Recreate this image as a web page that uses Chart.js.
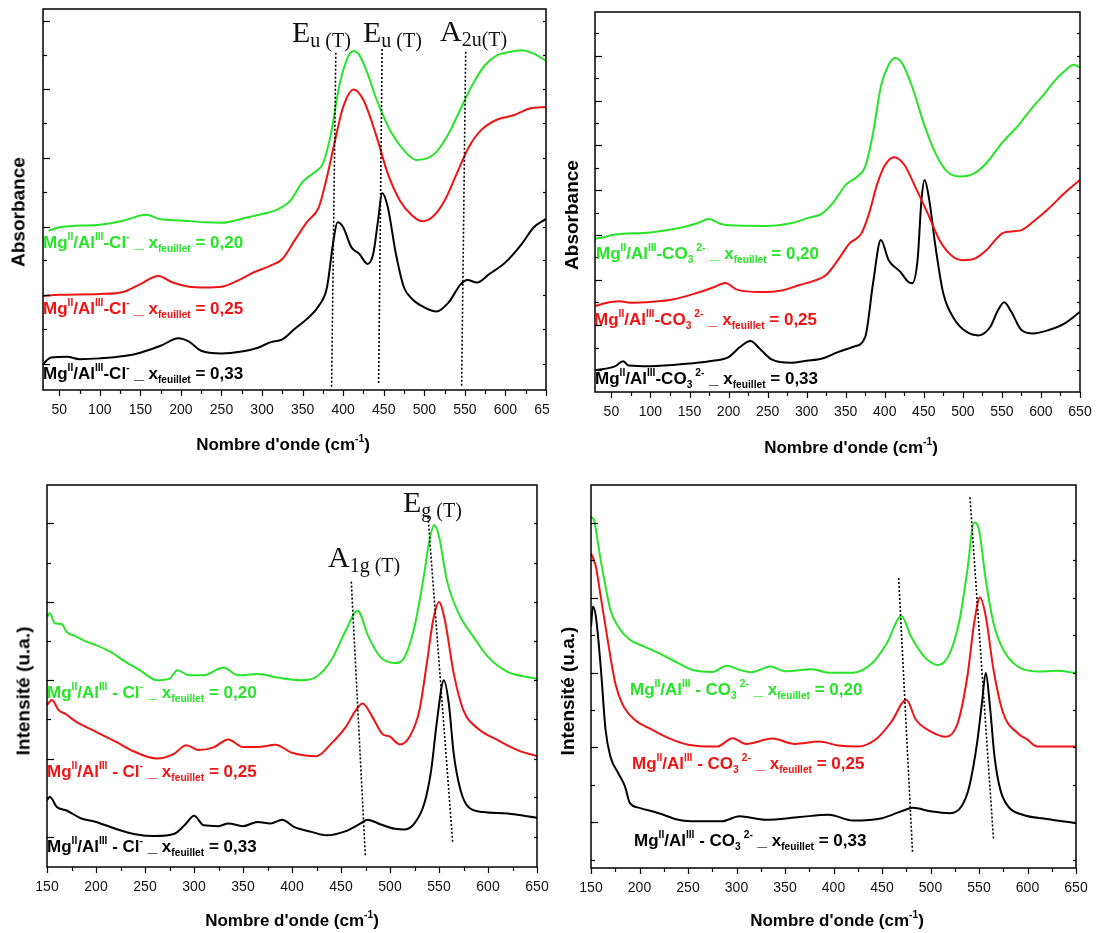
<!DOCTYPE html>
<html lang="fr">
<head>
  <meta charset="UTF-8" />
  <title>Spectres IR et Raman</title>
  <script src="https://cdn.jsdelivr.net/npm/chart.js"></script>
  <style>
    body { margin: 0; background: #fff; }
    #page { position: relative; width: 1096px; height: 933px; overflow: hidden; font-family: "Liberation Sans", Arial, sans-serif; }
    .panel { position: absolute; }
    .lbl { position: absolute; font-weight: bold; font-size: 17px; line-height: 1; white-space: nowrap; }
    .up, .dn { position: relative; font-size: 0.6em; }
    .up { top: -0.75em; }
    .dn { top: 0.45em; }
    .sp { margin-left: 3px; }
    .mode { position: absolute; font-family: "Liberation Serif", "Times New Roman", serif; font-size: 30px; line-height: 1; color: #111; white-space: nowrap; }
    .mode span { position: relative; top: 5px; font-size: 20px; }
    .xt, .yt { position: absolute; font-weight: bold; line-height: 1; white-space: nowrap; color: #000; }
    .xt { font-size: 17px; transform: translate(-50%, -50%); }
    .yt { font-size: 19px; transform: translate(-50%, -50%) rotate(-90deg); }
  </style>
</head>
<body>
  <div id="page">
    <div class="panel" style="left:0;top:0"><canvas id="irCl" width="550" height="470"></canvas></div>
    <div class="panel" style="left:550px;top:0"><canvas id="irCO3" width="546" height="470"></canvas></div>
    <div class="panel" style="left:0;top:470px"><canvas id="raCl" width="550" height="463"></canvas></div>
    <div class="panel" style="left:550px;top:470px"><canvas id="raCO3" width="546" height="463"></canvas></div>
  </div>

  <script>
    // wavenumber (cm-1), signal in arbitrary units (0 = bottom of frame, 100 = top)
    const irCl020 = [[37,41.8],[50,42.7],[100,43.4],[130,44.5],[157,46.0],[175,44.8],[200,44.5],[230,44.0],[250,43.9],[280,45.2],[300,46.2],[320,47.5],[335,49.7],[350,54.6],[365,57.2],[375,59.4],[385,67.3],[395,79.6],[405,87.0],[413,89.0],[420,87.9],[430,83.1],[440,76.9],[450,71.7],[460,67.3],[475,62.9],[490,60.4],[500,60.6],[515,62.5],[530,67.3],[545,73.9],[560,80.4],[575,85.3],[590,87.9],[600,88.5],[620,89.2],[635,88.3],[650,86.4]];
    const irCl025 = [[30,24.7],[50,25.0],[100,25.2],[130,25.8],[150,27.8],[172,29.9],[190,28.2],[210,27.1],[230,26.9],[250,27.1],[270,28.7],[290,30.9],[310,32.6],[325,34.4],[340,39.2],[355,44.0],[370,48.0],[380,55.9],[390,65.5],[400,74.3],[413,78.9],[425,76.1],[440,67.3],[455,56.8],[470,49.7],[485,45.8],[497,44.3],[510,45.4],[525,49.7],[540,56.8],[555,63.8],[570,68.2],[590,71.0],[610,72.1],[630,73.9],[650,74.3]];
    const irCl033 = [[30,6.8],[40,8.5],[60,8.7],[75,8.1],[100,8.3],[130,8.9],[150,9.8],[175,11.6],[197,13.6],[210,12.7],[225,10.3],[250,9.6],[275,10.1],[295,11.1],[310,12.5],[325,13.3],[340,16.0],[355,18.6],[370,22.1],[380,26.9],[388,39.2],[393,44.0],[400,42.7],[410,37.5],[420,35.7],[430,33.1],[437,35.7],[443,44.5],[448,51.7],[455,48.0],[465,35.7],[475,26.9],[485,23.9],[500,21.7],[515,20.6],[530,23.0],[545,27.8],[553,28.9],[565,28.2],[580,30.4],[600,33.5],[620,38.3],[635,42.7],[650,44.9]];
    const irClGuides = [[[390.9,88.5],[385.7,0.3]], [[448,89.5],[443.7,1.5]], [[551,88.8],[546,1]]];
    const irClTicksY = [96.8,87.9,78.9,70,60.9,52,42.9,34,25,16,6.9];

    const irCO3020 = [[29,40.4],[40,40.7],[50,41.3],[100,42.0],[140,43.3],[160,44.4],[175,45.5],[190,44.2],[210,43.8],[250,43.7],[280,44.4],[300,45.7],[320,47.0],[335,50.1],[350,54.5],[365,56.7],[375,59.3],[385,68.1],[395,80.4],[405,86.1],[413,87.9],[422,86.6],[435,80.4],[450,70.7],[465,62.8],[480,58.0],[497,56.7],[515,57.6],[530,60.2],[550,65.5],[570,69.9],[590,75.1],[605,78.6],[615,81.3],[630,84.4],[642,86.1],[650,85.4]];
    const irCO3025 = [[29,22.6],[40,23.3],[60,23.9],[75,23.5],[100,23.7],[130,24.4],[160,26.1],[180,27.5],[196,28.7],[210,27.0],[240,26.3],[270,26.8],[290,28.1],[310,29.3],[325,30.8],[340,34.7],[355,39.1],[370,41.7],[380,47.0],[390,54.5],[400,59.6],[412,61.8],[425,59.8],[440,53.6],[455,47.0],[470,40.0],[485,36.0],[500,34.7],[515,35.1],[530,37.3],[550,41.7],[560,42.2],[575,42.6],[590,44.8],[610,48.3],[630,52.3],[650,55.8]];
    const irCO3033 = [[29,5.7],[55,6.8],[65,8.1],[72,7.0],[100,6.8],[150,7.5],[180,8.2],[200,9.2],[215,11.9],[228,13.4],[240,11.4],[255,8.6],[280,7.7],[300,8.2],[320,8.8],[340,10.5],[360,11.9],[375,14.5],[385,28.6],[395,40.0],[405,34.7],[420,31.6],[430,29.0],[435,28.6],[442,34.7],[447,50.5],[451,55.8],[457,50.5],[465,38.2],[475,25.9],[490,18.9],[505,15.8],[520,14.9],[535,17.1],[545,21.5],[553,23.6],[562,21.1],[575,16.3],[590,15.4],[610,16.3],[630,18.0],[650,21.1]];
    const irCO3TicksY = [94.5,88.5,82.6,76.7,70.7,64.9,58.9,53.1,47.2,41.3,35.4,29.4,23.6,17.6,11.7,5.7];

    const raCl020 = [[150,65.5],[153,66.4],[158,63.8],[165,63.6],[170,61.6],[180,60.3],[190,59.0],[200,58.1],[215,56.3],[230,53.7],[245,51.5],[262,48.9],[275,49.3],[283,51.5],[295,50.2],[310,50.2],[330,52.2],[345,50.2],[365,50.5],[385,49.6],[410,48.9],[425,49.8],[440,54.1],[455,62.0],[467,67.1],[478,60.3],[490,55.0],[505,53.4],[515,55.0],[525,62.9],[535,76.9],[540,85.2],[545,89.5],[550,86.5],[558,75.1],[570,66.4],[585,60.3],[600,55.0],[620,51.1],[650,49.3]];
    const raCl025 = [[150,42.4],[155,43.7],[162,41.0],[168,40.2],[180,38.0],[200,35.4],[220,32.8],[240,30.1],[262,28.4],[280,29.7],[292,31.9],[305,30.6],[320,31.3],[335,33.4],[350,31.4],[365,31.4],[383,32.0],[400,29.9],[425,29.0],[440,32.3],[455,36.7],[465,41.0],[472,42.8],[482,39.3],[492,34.9],[500,34.1],[510,32.1],[520,34.1],[530,41.0],[538,54.1],[544,64.6],[550,69.4],[556,64.6],[565,50.7],[575,41.0],[590,36.2],[610,33.2],[630,30.6],[650,29.0]];
    const raCl033 = [[150,17.5],[153,18.3],[160,15.7],[170,14.8],[185,12.7],[200,11.8],[220,10.0],[240,8.6],[260,8.1],[280,8.7],[292,11.4],[300,13.4],[310,10.9],[325,10.7],[335,11.4],[350,10.7],[365,11.8],[378,11.4],[390,12.4],[402,10.5],[420,9.2],[435,8.3],[455,9.4],[470,11.4],[477,12.4],[490,11.2],[505,10.0],[515,9.8],[525,11.4],[535,16.6],[542,25.3],[548,38.4],[555,48.9],[560,42.8],[565,29.7],[572,20.1],[580,15.7],[595,14.4],[620,14.0],[650,12.9]];
    const raClGuides = [[[460.5,74.7],[474.9,2.6]], [[538.8,91.7],[564,6.3]]];
    const raClTicksY = [90,79.7,69.4,59.1,48.9,38.7,28.4,18.2,7.9];

    const raCO3020 = [[150,91.7],[153,90.9],[157,85.2],[160,80.4],[165,73.5],[170,67.4],[178,63.0],[190,59.6],[205,57.8],[220,56.1],[240,53.5],[255,51.7],[275,51.2],[290,52.8],[305,51.6],[315,51.1],[335,52.6],[350,51.4],[378,51.9],[395,51.0],[420,51.0],[440,53.5],[455,58.7],[470,65.7],[480,60.4],[495,54.8],[508,53.0],[520,56.1],[530,64.8],[538,77.8],[545,90.2],[550,88.3],[557,75.2],[565,63.9],[575,57.0],[590,52.6],[610,51.3],[630,51.5],[650,50.9]];
    const raCO3025 = [[150,82.2],[155,78.7],[160,70.9],[165,63.0],[170,55.2],[175,48.3],[182,43.0],[195,38.7],[210,36.5],[230,33.9],[250,32.2],[280,31.7],[296,33.9],[310,32.4],[337,33.8],[360,32.4],[385,33.0],[405,32.0],[425,31.7],[445,33.9],[460,38.3],[475,43.9],[485,38.7],[500,35.7],[516,34.3],[528,37.8],[538,50.0],[545,63.9],[551,70.6],[557,65.7],[565,51.7],[575,40.4],[590,35.2],[600,33.5],[610,31.7],[650,31.7]];
    const raCO3033 = [[150,63.0],[152,68.3],[155,65.7],[160,52.6],[165,36.1],[170,29.1],[178,24.8],[185,21.3],[190,17.0],[200,15.7],[220,14.3],[240,12.6],[260,12.2],[285,12.2],[303,13.5],[330,12.6],[365,13.3],[395,13.9],[420,12.4],[450,13.0],[470,14.8],[482,15.7],[500,14.8],[520,14.3],[532,16.1],[540,21.3],[548,32.6],[553,43.0],[557,50.9],[561,43.0],[566,29.1],[572,20.4],[580,16.1],[595,13.9],[620,12.8],[650,11.7]];
    const raCO3Guides = [[[467.2,75.7],[481.5,3.9]], [[540.7,96.8],[565,7.4]]];
    const raCO3TicksY = [90.2,80.4,70.6,60.9,51.0,41.3,31.5,21.7,11.9,2.2];

    const irTicksX = [50,100,150,200,250,300,350,400,450,500,550,600,650];
    const ramanTicksX = [150,200,250,300,350,400,450,500,550,600,650];
    const layerX = ['0,20', '0,25', '0,33'];
    const colors = ['rgb(40,228,40)', 'rgb(238,20,20)', '#000'];

    const sans = '"Liberation Sans", Arial, sans-serif';

    // box frame + tick marks: x ticks outward (major 50, minor 25), y ticks inward
    const framePlugin = {
      id: 'frame',
      afterDraw(chart, args, opts) {
        const { ctx, chartArea: a, scales: { x, y } } = chart;
        const seg = (x1, y1, x2, y2) => { ctx.beginPath(); ctx.moveTo(x1, y1); ctx.lineTo(x2, y2); ctx.stroke(); };
        ctx.save();
        ctx.strokeStyle = '#000';
        ctx.lineWidth = 1.5;
        ctx.strokeRect(a.left, a.top, a.right - a.left, a.bottom - a.top);
        ctx.lineWidth = 1.2;
        for (let v = opts.xTicks[0]; v <= x.max; v += 25) {
          const px = Math.round(x.getPixelForValue(v)) + 0.5;
          seg(px, a.bottom, px, a.bottom + (v % 50 === 0 ? 6 : 4));
        }
        opts.yTicks.forEach((v, i) => {
          const py = Math.round(y.getPixelForValue(v)) + 0.5;
          const major = i % 2 === opts.firstMajor;
          seg(a.left, py, a.left + (major ? 7 : 4), py);
          seg(a.right, py, a.right - 3, py);
        });
        ctx.restore();
      }
    };

    function drawPanel(id, box, xMin, xTicks, series, guides, yTicks, firstMajor) {
      const datasets = guides.map(g => ({
        data: g.map(([x, y]) => ({ x, y })),
        borderColor: '#000', borderWidth: 1.6, borderDash: [2, 2], pointRadius: 0
      }));
      series.forEach((s, i) => datasets.push({
        data: s.map(([x, y]) => ({ x, y })),
        borderColor: colors[i], borderWidth: 2, pointRadius: 0, cubicInterpolationMode: 'monotone'
      }));
      new Chart(document.getElementById(id), {
        type: 'line',
        data: { datasets },
        options: {
          responsive: false,
          animation: false,
          events: [],
          layout: { padding: { top: box.top, right: box.right, left: 0, bottom: 0 } },
          plugins: {
            legend: { display: false },
            tooltip: { enabled: false },
            frame: { xTicks, yTicks, firstMajor }
          },
          scales: {
            x: {
              type: 'linear', min: xMin, max: 650,
              grid: { display: false, drawTicks: false },
              border: { display: false },
              ticks: { padding: 12, color: '#111', maxRotation: 0, autoSkip: false, font: { family: sans, size: 14 } },
              afterBuildTicks: s => { s.ticks = xTicks.map(v => ({ value: v })); },
              afterFit: s => { s.height = box.bottom; s.paddingLeft = 0; s.paddingRight = 0; }
            },
            y: {
              min: 0, max: 100,
              grid: { display: false, drawTicks: false },
              border: { display: false },
              ticks: { display: false },
              afterFit: s => { s.width = box.left; }
            }
          }
        },
        plugins: [framePlugin]
      });
    }

    drawPanel('irCl', { left: 43, top: 9, right: 4, bottom: 80 }, 30, irTicksX, [irCl020, irCl025, irCl033], irClGuides, irClTicksY, 0);
    drawPanel('irCO3', { left: 45, top: 12, right: 16, bottom: 78 }, 29, irTicksX, [irCO3020, irCO3025, irCO3033], [], irCO3TicksY, 1);
    drawPanel('raCl', { left: 47, top: 15, right: 13, bottom: 66 }, 150, ramanTicksX, [raCl020, raCl025, raCl033], raClGuides, raClTicksY, 0);
    drawPanel('raCO3', { left: 41, top: 15, right: 20, bottom: 65 }, 150, ramanTicksX, [raCO3020, raCO3025, raCO3033], raCO3Guides, raCO3TicksY, 0);

    // ---- text overlays ----
    const page = document.getElementById('page');
    function addText(cls, html, x, y, color) {
      const d = document.createElement('div');
      d.className = cls;
      d.innerHTML = html;
      d.style.left = x + 'px';
      d.style.top = y + 'px';
      if (color) d.style.color = color;
      page.appendChild(d);
    }
    function layerLabel(anion, spaced, x) {
      const sep = spaced ? ' - ' : '-';
      const an = anion === 'Cl'
        ? 'Cl<span class="up">-</span>'
        : 'CO<span class="dn">3</span><span class="up sp">2-</span>';
      return `Mg<span class="up">II</span>/Al<span class="up">III</span>${sep}${an} _ x<span class="dn">feuillet</span> = ${x}`;
    }
    // [anion, spaced, [[left, baseline] x3]]
    const labelSets = [
      ['Cl', false, [[43, 248], [43, 314], [43, 379]]],
      ['CO3', false, [[596, 259], [594, 325], [595, 384]]],
      ['Cl', true, [[47, 698], [47, 777], [47, 852]]],
      ['CO3', true, [[630, 695], [632, 769], [634, 846]]]
    ];
    labelSets.forEach(([an, sp, pos]) => {
      pos.forEach(([x, base], i) => addText('lbl', layerLabel(an, sp, layerX[i]), x, base - 14.4, colors[i]));
    });

    const modes = [
      ['E', 'u (T)', 292, 42], ['E', 'u (T)', 363, 42], ['A', '2u(T)', 440, 41],
      ['A', '1g (T)', 328, 567], ['E', 'g (T)', 403, 512]
    ];
    modes.forEach(([big, sub, x, base]) => addText('mode', `${big}<span>${sub}</span>`, x, base - 25.1));

    const xTitle = 'Nombre d\'onde (cm<span class="up">-1</span>)';
    [[283, 444], [851, 447], [292, 920], [837, 920]].forEach(([x, y]) => addText('xt', xTitle, x, y));
    [['Absorbance', 18, 212], ['Absorbance', 571, 215], ['Intensité (u.a.)', 23, 691], ['Intensité (u.a.)', 567, 691]]
      .forEach(([t, x, y]) => addText('yt', t, x, y));
  </script>
</body>
</html>
